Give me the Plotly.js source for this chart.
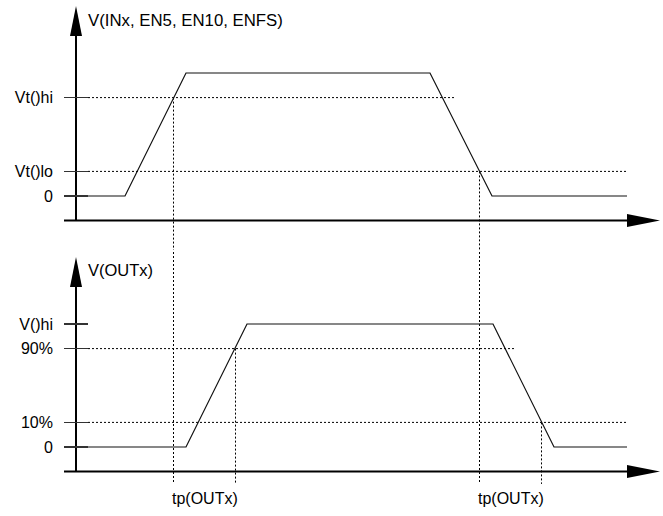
<!DOCTYPE html>
<html>
<head>
<meta charset="utf-8">
<script src="https://cdn.plot.ly/plotly-3.0.1.min.js"></script>
<style>html,body{margin:0;padding:0;background:#fff;}#chart{width:663px;height:516px;}</style>
</head>
<body>
<div id="chart"></div>
<script>
// ---- data (time in arbitrary units, voltage normalised to high level = 1) ----
const tIn  = [0, 49, 110, 354, 416, 551];
const vIn  = [0, 0, 1, 1, 0, 0];
const tOut = [0, 110, 171, 417, 478, 551];
const vOut = [0, 0, 1, 1, 0, 0];

const inTickVals  = [0, 0.2, 0.8];
const inTickText  = ['0', 'Vt()lo', 'Vt()hi'];
const outTickVals = [0, 0.2, 0.8, 1];
const outTickText = ['0', '10%', '90%', 'V()hi'];

// threshold reference lines: level, end time
const inRefLevels  = [0.8, 0.2];
const inRefEnds    = [378, 551];
const outRefLevels = [0.8, 0.2];
const outRefEnds   = [439, 551];

// threshold crossing times
const inCross  = [97.5, 403.5];   // Vt()hi on rise, Vt()lo on fall
const inCrossV = [0.8, 0.2];
const outCross = [159.5, 465.5];  // 90% on rise, 10% on fall
const outCrossV= [0.8, 0.2];

const tpLabels = ['tp(OUTx)', 'tp(OUTx)'];
const yTitleIn  = 'V(INx, EN5, EN10, ENFS)';
const yTitleOut = 'V(OUTx)';

const tEnd = 551;       // end of time axis line
const refStart = 12;    // start of dotted reference lines
const axisLevel = -0.2; // where the time axis crosses
const arrowBase = 1.3;  // top of vertical axis line

// ---- build traces ----
const FONT = 'Liberation Sans, Arial, sans-serif';
const dotted = {color: '#000', width: 1, dash: '2px,2px'};
const traces = [];

inRefLevels.forEach((lv, i) => traces.push({x: [refStart, inRefEnds[i]], y: [lv, lv], xaxis: 'x', yaxis: 'y', mode: 'lines', line: dotted, hoverinfo: 'skip'}));
outRefLevels.forEach((lv, i) => traces.push({x: [refStart, outRefEnds[i]], y: [lv, lv], xaxis: 'x2', yaxis: 'y2', mode: 'lines', line: dotted, hoverinfo: 'skip'}));

// vertical dotted lines: from crossing in top panel through the bottom panel
inCross.forEach((t, i) => {
  traces.push({x: [t, t], y: [inCrossV[i], -5], xaxis: 'x', yaxis: 'y', mode: 'lines', line: dotted, hoverinfo: 'skip'});
  traces.push({x: [t, t], y: [5, -0.3], xaxis: 'x2', yaxis: 'y2', mode: 'lines', line: dotted, hoverinfo: 'skip'});
});
outCross.forEach((t, i) => {
  traces.push({x: [t, t], y: [outCrossV[i], -0.3], xaxis: 'x2', yaxis: 'y2', mode: 'lines', line: dotted, hoverinfo: 'skip'});
});

// axes lines
[['x', 'y'], ['x2', 'y2']].forEach(([xa, ya]) => {
  traces.push({x: [-12, tEnd], y: [axisLevel, axisLevel], xaxis: xa, yaxis: ya, mode: 'lines', line: {color: '#000', width: 2}, hoverinfo: 'skip'});
  traces.push({x: [0, 0], y: [axisLevel, arrowBase], xaxis: xa, yaxis: ya, mode: 'lines', line: {color: '#000', width: 2}, hoverinfo: 'skip'});
});

// waveforms
traces.push({x: tIn, y: vIn, xaxis: 'x', yaxis: 'y', mode: 'lines', line: {color: '#111', width: 1.2}, hoverinfo: 'skip'});
traces.push({x: tOut, y: vOut, xaxis: 'x2', yaxis: 'y2', mode: 'lines', line: {color: '#111', width: 1.2}, hoverinfo: 'skip'});

// arrowheads
const shapes = [];
[['x', 'y'], ['x2', 'y2']].forEach(([xa, ya]) => {
  shapes.push({type: 'path', xref: xa, yref: ya, xsizemode: 'pixel', ysizemode: 'pixel', xanchor: tEnd, yanchor: axisLevel,
    path: 'M0,-6.5 L33,0 L0,6.5 Z', fillcolor: '#000', line: {width: 0}});
  shapes.push({type: 'path', xref: xa, yref: ya, xsizemode: 'pixel', ysizemode: 'pixel', xanchor: 0, yanchor: arrowBase,
    path: 'M-6,0 L6,0 L0,30 Z', fillcolor: '#000', line: {width: 0}});
});

const annotations = [
  {xref: 'x', yref: 'y', x: 10, y: 1.43, text: yTitleIn, showarrow: false, xanchor: 'left', yanchor: 'middle', font: {family: FONT, size: 16.8, color: '#000'}},
  {xref: 'x2', yref: 'y2', x: 10, y: 1.44, text: yTitleOut, showarrow: false, xanchor: 'left', yanchor: 'middle', font: {family: FONT, size: 16.5, color: '#000'}},
  {xref: 'x2', yref: 'y2', x: (inCross[0] + outCross[0]) / 2, y: -0.415, text: tpLabels[0], showarrow: false, xanchor: 'center', yanchor: 'middle', font: {family: FONT, size: 16, color: '#000'}},
  {xref: 'x2', yref: 'y2', x: (inCross[1] + outCross[1]) / 2, y: -0.415, text: tpLabels[1], showarrow: false, xanchor: 'center', yanchor: 'middle', font: {family: FONT, size: 16, color: '#000'}}
];

const xCommon = {domain: [64 / 663, 1], range: [-12, 587], showgrid: false, zeroline: false, showline: false, showticklabels: false, ticks: ''};
const yCommon = {showgrid: false, zeroline: false, showline: false, ticks: 'inside', ticklen: 24, tickwidth: 1.3, tickcolor: '#333',
  tickfont: {family: FONT, size: 16, color: '#000'}, ticklabelstandoff: 10, tickmode: 'array'};

const layout = {
  width: 663, height: 516,
  margin: {l: 0, r: 0, t: 0, b: 0},
  paper_bgcolor: '#fff', plot_bgcolor: '#fff',
  showlegend: false,
  xaxis: Object.assign({}, xCommon, {anchor: 'y'}),
  xaxis2: Object.assign({}, xCommon, {anchor: 'y2'}),
  yaxis: Object.assign({}, yCommon, {anchor: 'x', domain: [1 - 250 / 516, 1], range: [-0.439, 1.5935], tickvals: inTickVals, ticktext: inTickText}),
  yaxis2: Object.assign({}, yCommon, {anchor: 'x2', domain: [0, 1 - 250 / 516], range: [-0.561, 1.6016], tickvals: outTickVals, ticktext: outTickText}),
  shapes: shapes,
  annotations: annotations
};

Plotly.newPlot('chart', traces, layout, {staticPlot: true, displayModeBar: false});
</script>
</body>
</html>
